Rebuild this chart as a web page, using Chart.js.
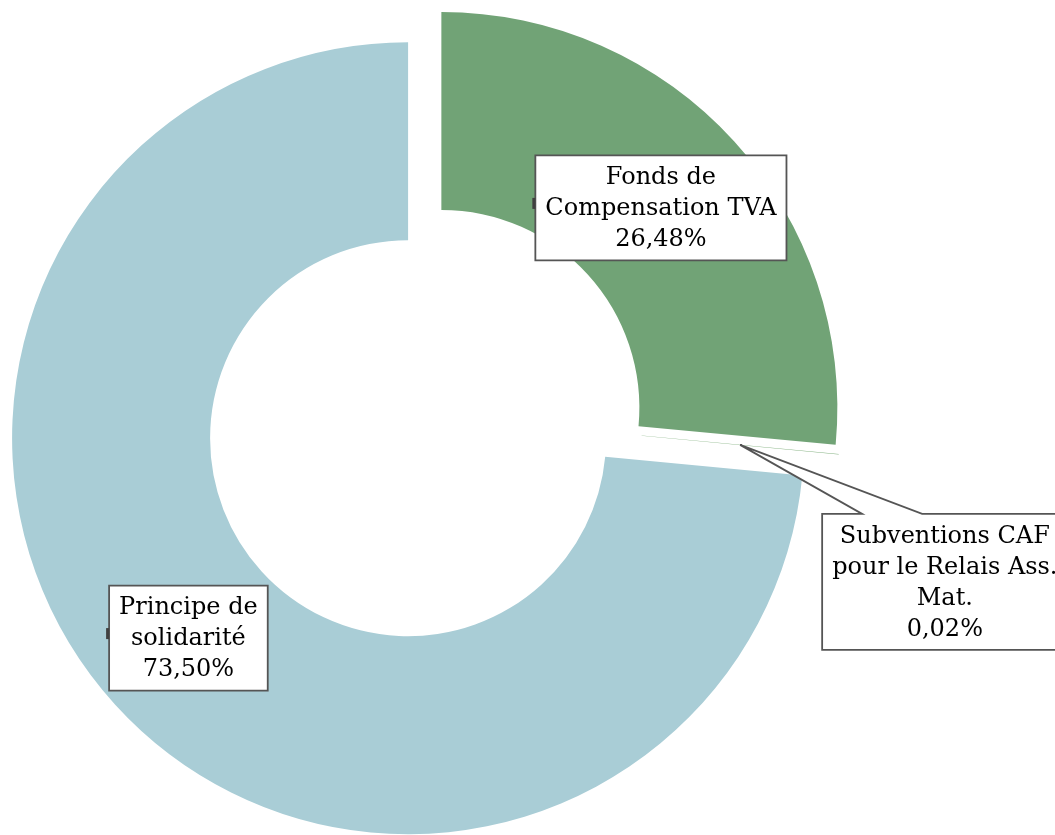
<!DOCTYPE html>
<html>
<head>
<meta charset="utf-8">
<script src="https://cdn.jsdelivr.net/npm/chart.js@4/dist/chart.umd.min.js"></script>
<style>
  html, body { margin: 0; padding: 0; background: #ffffff; }
  #wrap { width: 1055px; height: 835px; position: relative; overflow: hidden; }
</style>
</head>
<body>
<div id="wrap"><canvas id="c" width="1055" height="835"></canvas></div>
<script>
// ---- data ----
const categories = [
  ["Fonds de", "Compensation TVA"],
  ["Subventions CAF", "pour le Relais Ass.", "Mat."],
  ["Principe de", "solidarité"]
];
const values = [26.48, 0.02, 73.50];
const valueLabels = ["26,48%", "0,02%", "73,50%"];

// ---- styles ----
const colors = ["#71A376", "#7FAE7C", "#A9CDD6"];
const explode = [12, 12, 33];           // px, Excel-style point explosion
const FONT = '24px "DejaVu Serif"';
const LINE_H = 31;
const PAD_X = 10, PAD_Y = 6;
const BOX_STROKE = "#555555";

// explode each slice along its mid-angle (without growing its radius)
const explodePlugin = {
  id: 'explode',
  afterDatasetUpdate(chart, args) {
    const meta = args.meta;
    meta.data.forEach((arc, i) => {
      const d = explode[i] || 0;
      const mid = (arc.startAngle + arc.endAngle) / 2;
      arc.x += Math.cos(mid) * d;
      arc.y += Math.sin(mid) * d;
    });
  }
};

function drawBox(ctx, lines, left, top, w, h, pointer) {
  ctx.save();
  ctx.beginPath();
  if (pointer) {
    ctx.moveTo(left, top);
    ctx.lineTo(left + pointer.x0, top);
    ctx.lineTo(pointer.ax, pointer.ay);
    ctx.lineTo(left + pointer.x1, top);
    ctx.lineTo(left + w, top);
    ctx.lineTo(left + w, top + h);
    ctx.lineTo(left, top + h);
    ctx.closePath();
  } else {
    ctx.rect(left, top, w, h);
  }
  ctx.fillStyle = "#ffffff";
  ctx.fill();
  ctx.lineWidth = 1.8;
  ctx.strokeStyle = BOX_STROKE;
  ctx.stroke();
  if (!pointer) {
    ctx.fillStyle = "#404040";
    ctx.fillRect(left - 3, top + h / 2 - 10, 3, 11);
  }
  ctx.fillStyle = "#000000";
  ctx.font = FONT;
  ctx.textAlign = "center";
  ctx.textBaseline = "middle";
  const cx = left + w / 2;
  lines.forEach((t, k) => {
    ctx.fillText(t, cx, top + PAD_Y + LINE_H / 2 + k * LINE_H + 1);
  });
  ctx.restore();
}

const labelPlugin = {
  id: 'calloutLabels',
  afterDatasetsDraw(chart) {
    const ctx = chart.ctx;
    const arcs = chart.getDatasetMeta(0).data;
    ctx.save();
    ctx.font = FONT;
    arcs.forEach((arc, i) => {
      const lines = categories[i].concat([valueLabels[i]]);
      const tw = Math.max(...lines.map(t => ctx.measureText(t).width));
      const w = tw + 2 * PAD_X;
      const h = lines.length * LINE_H + 2 * PAD_Y;
      const p = arc.getCenterPoint();
      if (i === 1) {
        // tiny slice: callout box placed down-right of the slice, with a wedge pointer
        const left = p.x + 82, top = p.y + 69;
        drawBox(ctx, lines, left, top, w, h, { x0: 40, x1: 100, ax: p.x, ay: p.y });
      } else {
        drawBox(ctx, lines, p.x - w / 2, p.y - h / 2, w, h, null);
      }
    });
    ctx.restore();
  }
};

new Chart(document.getElementById('c'), {
  type: 'doughnut',
  data: {
    labels: categories.map(l => l.join(' ')),
    datasets: [{
      data: values,
      backgroundColor: colors,
      borderWidth: 0,
      hoverOffset: 0
    }]
  },
  options: {
    responsive: false,
    animation: false,
    devicePixelRatio: 1,
    radius: 396,
    cutout: '50%',
    layout: { padding: { left: 0, right: 190, top: 0, bottom: 3 } },
    plugins: {
      legend: { display: false },
      tooltip: { enabled: false },
      title: { display: false }
    },
    events: []
  },
  plugins: [explodePlugin, labelPlugin]
});
</script>
</body>
</html>
